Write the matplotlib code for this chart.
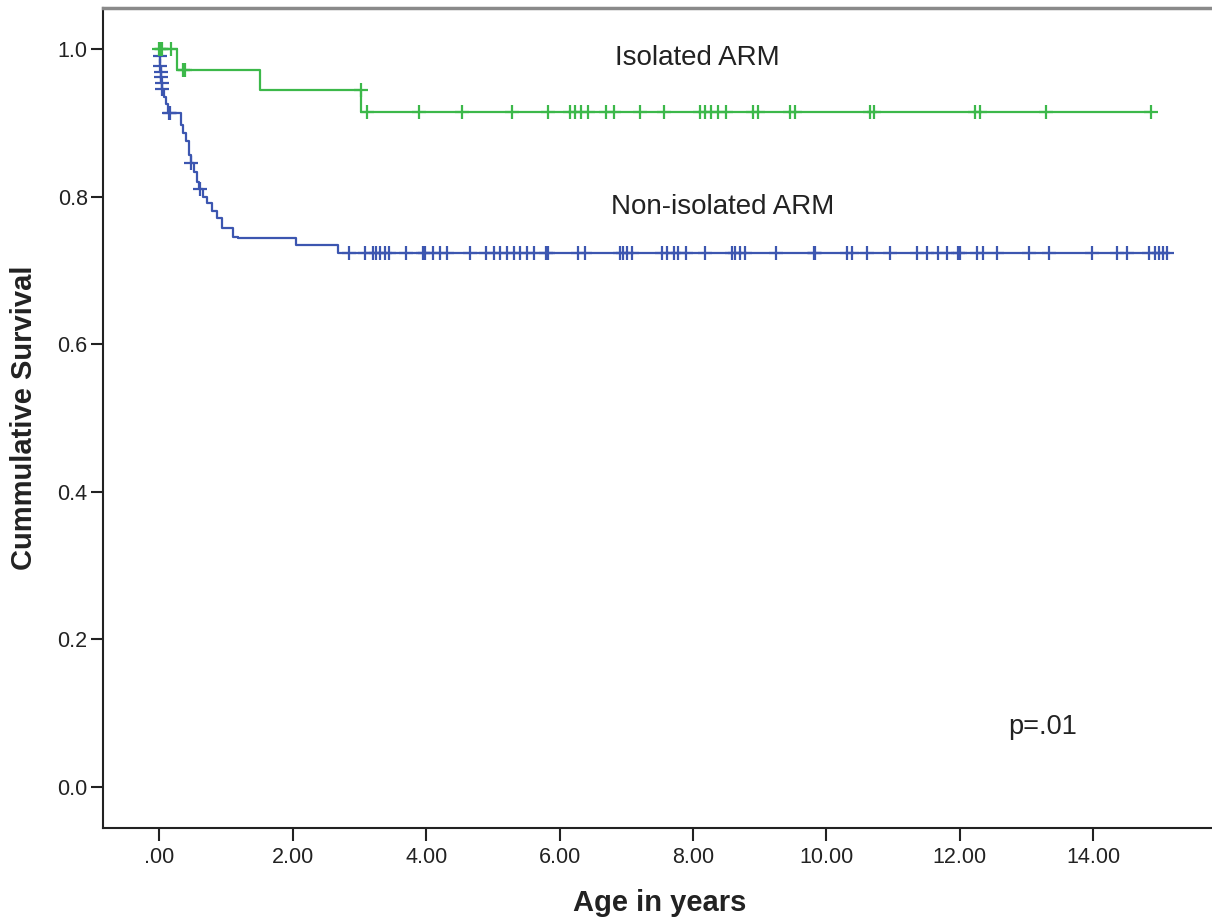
import matplotlib.pyplot as plt
import numpy as np

plt.rcParams['font.family'] = ['Liberation Sans', 'DejaVu Sans']

# Isolated ARM: step times and survival after each step
iso_t = [0.0, 0.26, 1.51, 3.03]
iso_s = [1.0, 0.972, 0.944, 0.915]
iso_censor = [0.0, 0.02, 0.04, 0.17, 0.36, 0.39, 3.02, 3.12, 3.90, 4.53, 5.28,
              5.82, 6.15, 6.23, 6.32, 6.42, 6.69, 6.81, 7.21, 7.57, 8.10, 8.18,
              8.27, 8.37, 8.49, 8.90, 8.97, 9.46, 9.53, 10.66, 10.72, 12.23,
              12.30, 13.29, 14.86]

# Non-isolated ARM
non_t = [0.0, 0.005, 0.01, 0.015, 0.02, 0.025, 0.03, 0.04, 0.07, 0.10, 0.13,
         0.32, 0.36, 0.40, 0.44, 0.47, 0.52, 0.56, 0.60, 0.66, 0.72, 0.79,
         0.86, 0.94, 1.10, 1.18, 2.05, 2.68]
non_s = [1.0, 0.99, 0.984, 0.977, 0.969, 0.962, 0.954, 0.946, 0.935, 0.925,
         0.913, 0.897, 0.886, 0.876, 0.856, 0.845, 0.834, 0.820, 0.810, 0.800,
         0.791, 0.781, 0.771, 0.757, 0.745, 0.744, 0.734, 0.724]
non_censor = [0.007, 0.017, 0.022, 0.027, 0.033, 0.045, 0.14, 0.16, 0.48, 0.61,
              2.85, 3.08, 3.21, 3.25, 3.31, 3.38, 3.45, 3.70, 3.96, 3.98, 4.11,
              4.21, 4.32, 4.66, 4.90, 5.01, 5.11, 5.21, 5.31, 5.41, 5.51, 5.61,
              5.80, 5.83, 6.28, 6.38, 6.91, 6.95, 7.01, 7.08, 7.53, 7.61, 7.71,
              7.78, 7.90, 8.18, 8.58, 8.63, 8.71, 8.78, 9.25, 9.81, 9.83, 10.31,
              10.38, 10.61, 10.95, 11.36, 11.51, 11.68, 11.81, 11.98, 12.00,
              12.26, 12.35, 12.55, 13.03, 13.33, 13.98, 14.35, 14.50, 14.83,
              14.93, 14.98, 15.05, 15.10]

xticks = [0, 2, 4, 6, 8, 10, 12, 14]
xtick_labels = ['.00', '2.00', '4.00', '6.00', '8.00', '10.00', '12.00', '14.00']
yticks = [0.0, 0.2, 0.4, 0.6, 0.8, 1.0]
ytick_labels = ['0.0', '0.2', '0.4', '0.6', '0.8', '1.0']

green = '#3cb84a'
blue = '#3c56b0'


def level_at(t_steps, s_steps, t):
    idx = np.searchsorted(t_steps, t, side='right') - 1
    return np.asarray(s_steps)[idx]


fig = plt.figure(figsize=(12.12, 9.24), dpi=100)
ax = fig.add_axes([103 / 1212, 96 / 924, 1109 / 1212, 820 / 924])

for t, s, c, col in [(non_t, non_s, non_censor, blue), (iso_t, iso_s, iso_censor, green)]:
    end = max(c)
    ax.step(np.append(t, end), np.append(s, s[-1]), where='post', color=col, lw=1.6)
    ax.plot(c, level_at(t, s, c), ls='none', marker='+', ms=10, mew=1.6, color=col)

ax.text(8.06, 0.988, 'Isolated ARM', ha='center', va='center', fontsize=20, color='#222222')
ax.text(8.44, 0.786, 'Non-isolated ARM', ha='center', va='center', fontsize=20, color='#222222')
ax.text(13.24, 0.081, 'p=.01', ha='center', va='center', fontsize=19.5, color='#222222')

ax.set_xlim(-0.844, 15.78)
ax.set_ylim(-0.0556, 1.0556)
ax.set_xticks(xticks)
ax.set_xticklabels(xtick_labels)
ax.set_yticks(yticks)
ax.set_yticklabels(ytick_labels)
ax.tick_params(length=9, width=1.5, labelsize=15.5, colors='#222222')
ax.tick_params(axis='y', pad=2)
ax.tick_params(axis='x', pad=5)

ax.spines['right'].set_visible(False)
ax.spines['top'].set_color('#8a8a8a')
ax.spines['top'].set_linewidth(2.5)
ax.spines['left'].set_linewidth(1.5)
ax.spines['bottom'].set_linewidth(1.5)
ax.spines['left'].set_color('#222222')
ax.spines['bottom'].set_color('#222222')

ax.set_xlabel('Age in years', fontsize=21, fontweight='bold', va='center', color='#222222')
ax.xaxis.set_label_coords(0.502, -0.0915)
ax.set_ylabel('Cummulative Survival', fontsize=21, fontweight='bold', va='center', color='#222222')
ax.yaxis.set_label_coords(-0.071, 0.5)

fig.savefig('out.png', dpi=100)
